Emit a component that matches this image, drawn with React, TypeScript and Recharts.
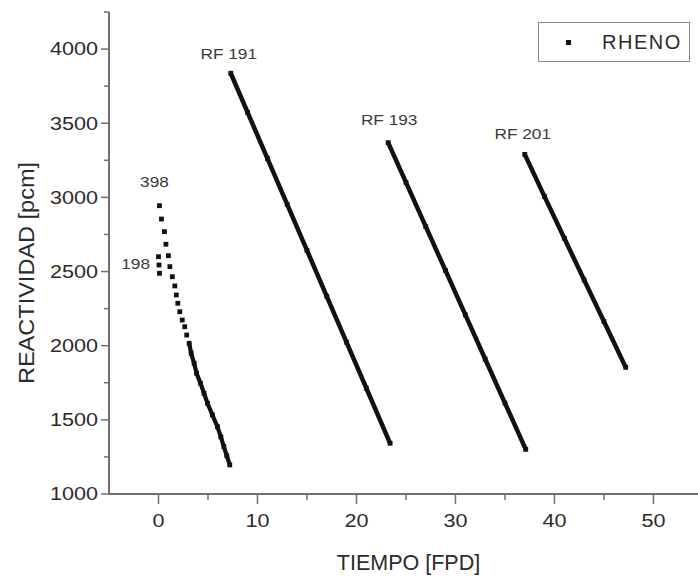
import React from "react";
import { ScatterChart, Scatter, XAxis, YAxis, Legend, LabelList } from "recharts";

// valores (TIEMPO en FPD, REACTIVIDAD en pcm)
const xTicks = [0, 5, 10, 15, 20, 25, 30, 35, 40, 45, 50];
const yTicks = [1000, 1250, 1500, 1750, 2000, 2250, 2500, 2750, 3000, 3250, 3500, 3750, 4000, 4250];

const t198 = [0.0, 0.05, 0.1];
const r198 = [2600, 2544, 2488];

const t398top = [0.1, 0.3, 0.6, 0.75, 1.0, 1.15, 1.4, 1.65, 1.8, 1.95, 2.15, 2.4, 2.65, 2.85];
const r398top = [2944, 2854, 2769, 2684, 2607, 2533, 2465, 2403, 2342, 2286, 2229, 2173, 2128, 2072];
const t398low = [3.1, 3.3, 3.6, 3.85, 4.25, 4.6, 4.95, 5.45, 5.95, 6.3, 6.6, 6.9, 7.2];
const r398low = [2016, 1949, 1881, 1814, 1746, 1679, 1612, 1533, 1454, 1385, 1320, 1258, 1196];

const t191 = [7.3, 9, 11, 13, 15, 17, 19, 21, 23.4];
const r191 = [3837, 3573, 3263, 2953, 2643, 2333, 2023, 1713, 1342];

const t193 = [23.2, 25, 27, 29, 31, 33, 35, 37.1];
const r193 = [3369, 3101, 2803, 2506, 2208, 1910, 1613, 1301];

const t201 = [37, 39, 41, 43, 45, 47.2];
const r201 = [3290, 3005, 2724, 2443, 2163, 1854];

const toPoints = (t: number[], r: number[], tag?: string, tagIndex = 0) =>
  t.map((x, i) => ({ x, y: r[i], tag: i === tagIndex ? tag : undefined }));

const font = "'Liberation Sans', Arial, sans-serif";
const axisColor = "#707070";
const textColor = "#2b2b2b";

const XTick = (props: any) => {
  const { x, y, payload } = props;
  const major = payload.value % 10 === 0;
  return (
    <g>
      <line x1={x} x2={x} y1={y} y2={y + (major ? 10 : 6)} stroke={axisColor} strokeWidth={1.5} />
      {major && (
        <text
          transform={`translate(${x},${y + 27}) scale(1.2,1)`}
          textAnchor="middle"
          dominantBaseline="central"
          fontFamily={font}
          fontSize={18}
          fill={textColor}
        >
          {payload.value}
        </text>
      )}
    </g>
  );
};

const YTick = (props: any) => {
  const { x, y, payload } = props;
  const major = payload.value % 500 === 0;
  return (
    <g>
      <line x1={x - (major ? 8 : 5)} x2={x} y1={y} y2={y} stroke={axisColor} strokeWidth={1.5} />
      {major && (
        <text
          transform={`translate(${x - 11},${y}) scale(1.2,1)`}
          textAnchor="end"
          dominantBaseline="central"
          fontFamily={font}
          fontSize={18}
          fill={textColor}
        >
          {payload.value}
        </text>
      )}
    </g>
  );
};

const YTitle = (props: any) => {
  const { viewBox } = props;
  const cy = viewBox.y + viewBox.height / 2 + 20;
  return (
    <text
      transform={`translate(26,${cy}) rotate(-90) scale(1.07,1)`}
      textAnchor="middle"
      dominantBaseline="central"
      fontFamily={font}
      fontSize={22}
      fill={textColor}
    >
      REACTIVIDAD [pcm]
    </text>
  );
};

const Square = (props: any) => {
  const { cx, cy } = props;
  return <rect x={cx - 2.4} y={cy - 2.4} width={4.8} height={4.8} fill="#111" />;
};

const makeTag = (dx: number, dy: number, anchor: "middle" | "end" = "middle") => (props: any) => {
  const { viewBox, value } = props;
  if (!value || !viewBox) return null;
  const cx = viewBox.x + (viewBox.width || 0) / 2 + dx;
  const cy = viewBox.y + (viewBox.height || 0) / 2 + dy;
  return (
    <text
      transform={`translate(${cx},${cy}) scale(1.15,1)`}
      textAnchor={anchor}
      dominantBaseline="central"
      fontFamily={font}
      fontSize={15}
      fill="#3a3a3a"
    >
      {value}
    </text>
  );
};

const RhenoLegend = () => (
  <div
    style={{
      boxSizing: "border-box",
      width: 152,
      height: 40,
      border: "1px solid #8a8a8a",
      display: "flex",
      alignItems: "center",
      fontFamily: font,
      fontSize: 20,
      letterSpacing: 1.5,
      color: textColor,
    }}
  >
    <span style={{ display: "inline-block", width: 5, height: 5, background: "#111", marginLeft: 27, marginRight: 31 }} />
    RHENO
  </div>
);

export default function App() {
  return (
    <div style={{ position: "absolute", left: 0, top: 0, background: "#fff" }}>
      <ScatterChart width={698} height={579} margin={{ top: 12, right: 0, bottom: 5, left: 0 }}>
        <XAxis
          type="number"
          dataKey="x"
          domain={[-5, 54.5]}
          ticks={xTicks}
          allowDataOverflow
          height={80}
          tickSize={0}
          tickMargin={0}
          tickLine={false}
          tick={<XTick />}
          axisLine={{ stroke: axisColor, strokeWidth: 2 }}
          label={{ value: "TIEMPO [FPD]", position: "insideBottom", offset: 4, dx: 5, style: { fontFamily: font, fontSize: 21.5, fill: textColor } }}
        />
        <YAxis
          type="number"
          dataKey="y"
          domain={[1000, 4250]}
          ticks={yTicks}
          allowDataOverflow
          width={109}
          tickSize={0}
          tickMargin={0}
          tickLine={false}
          tick={<YTick />}
          axisLine={{ stroke: axisColor, strokeWidth: 2 }}
          label={<YTitle />}
        />
        <Legend verticalAlign="middle" align="center" wrapperStyle={{ left: 538, top: 22, width: 152, height: 40 }} content={<RhenoLegend />} />
        <Scatter name="RHENO" data={toPoints(t198, r198, "198", 1)} shape={<Square />} isAnimationActive={false}>
          <LabelList dataKey="tag" content={makeTag(-9, -2, "end")} />
        </Scatter>
        <Scatter name="RHENO" data={toPoints(t398top, r398top, "398")} shape={<Square />} isAnimationActive={false}>
          <LabelList dataKey="tag" content={makeTag(-5, -24)} />
        </Scatter>
        <Scatter name="RHENO" data={toPoints(t398low, r398low)} shape={<Square />} line={{ stroke: "#111", strokeWidth: 4.2 }} isAnimationActive={false} />
        <Scatter name="RHENO" data={toPoints(t191, r191, "RF 191")} shape={<Square />} line={{ stroke: "#111", strokeWidth: 4.5 }} isAnimationActive={false}>
          <LabelList dataKey="tag" content={makeTag(-2, -20)} />
        </Scatter>
        <Scatter name="RHENO" data={toPoints(t193, r193, "RF 193")} shape={<Square />} line={{ stroke: "#111", strokeWidth: 4.5 }} isAnimationActive={false}>
          <LabelList dataKey="tag" content={makeTag(1, -23)} />
        </Scatter>
        <Scatter name="RHENO" data={toPoints(t201, r201, "RF 201")} shape={<Square />} line={{ stroke: "#111", strokeWidth: 4.5 }} isAnimationActive={false}>
          <LabelList dataKey="tag" content={makeTag(-2, -21)} />
        </Scatter>
      </ScatterChart>
    </div>
  );
}
